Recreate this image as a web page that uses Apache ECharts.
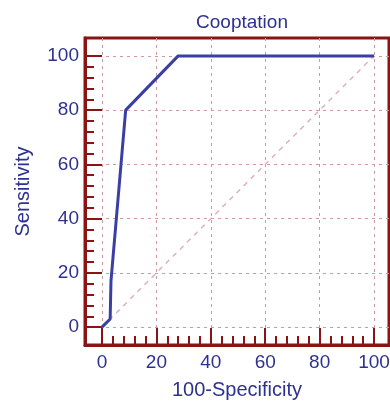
<!DOCTYPE html>
<html><head><meta charset="utf-8">
<script src="https://cdn.jsdelivr.net/npm/echarts@6/dist/echarts.min.js"></script>
<style>html,body{margin:0;padding:0;background:#fff}#c{width:390px;height:403px}</style>
</head><body><div id="c"></div>
<script>
const titleText = 'Cooptation';
const xName = '100-Specificity';
const yName = 'Sensitivity';
const rocX = [0, 3, 3.3, 8.7, 28, 100];
const rocY = [0, 3, 17, 80, 100, 100];
const diagX = [0, 100];
const diagY = [0, 100];
const majorTicks = [0, 20, 40, 60, 80, 100];
const minorStep = 4;
const minorTicks = [];
for (let v = 0; v <= 100; v += minorStep) minorTicks.push(v);

const textColor = '#2E3190';
const frameColor = '#8A1414';
const gridColor = '#CF9A9F';
const lineColor = '#3A3FA6';
const font = 'Liberation Sans, Arial';

const G = {left: 85, top: 38, right: 1, bottom: 58};
const gridW = 390 - G.left - G.right;
const gridH = 403 - G.top - G.bottom;

function axisPair(kind, min, max, nameText, nameGap) {
  const main = {
    type: 'value', min: min, max: max,
    name: nameText, nameLocation: 'middle', nameGap: nameGap,
    nameTextStyle: {color: textColor, fontSize: 20, fontFamily: font},
    axisLine: {show: true, onZero: false, lineStyle: {color: frameColor, width: 3}},
    axisTick: {show: true, inside: true, length: 17, customValues: majorTicks, lineStyle: {color: frameColor, width: 2}},
    axisLabel: {show: true, customValues: majorTicks, color: textColor, fontSize: 19, fontFamily: font, margin: kind === 'x' ? 8 : 6},
    splitLine: {show: true, lineStyle: {color: gridColor, type: [3, 4], width: 1}},
    splitNumber: 5,
    position: kind === 'x' ? 'bottom' : 'left'
  };
  // minor-tick axis: put on the opposite side, then shifted back onto the same edge
  const minor = {
    type: 'value', min: min, max: max,
    axisLine: {show: false, onZero: false},
    axisTick: {show: true, inside: false, length: 9, customValues: minorTicks, lineStyle: {color: frameColor, width: 2}},
    axisLabel: {show: false},
    splitLine: {show: false},
    position: kind === 'x' ? 'top' : 'right',
    offset: kind === 'x' ? -gridH : -gridW
  };
  return [main, minor];
}

const chart = echarts.init(document.getElementById('c'));
chart.setOption({
  animation: false,
  title: {text: titleText, left: 237, top: 8, textAlign: 'center',
    textStyle: {color: textColor, fontSize: 19, fontWeight: 'normal', fontFamily: font}},
  grid: Object.assign({show: true, borderColor: frameColor, borderWidth: 3, backgroundColor: 'transparent',
    containLabel: false, outerBoundsMode: 'none'}, G),
  xAxis: axisPair('x', -6.25, 105.5, xName, 35),
  yAxis: axisPair('y', -6.6, 106.6, yName, 52),
  series: [
    {type: 'line', xAxisIndex: 0, yAxisIndex: 0, data: diagX.map((x, i) => [x, diagY[i]]),
     showSymbol: false, lineStyle: {color: '#DDAEB6', width: 1.4, type: [5, 5]}},
    {type: 'line', xAxisIndex: 0, yAxisIndex: 0, data: rocX.map((x, i) => [x, rocY[i]]),
     showSymbol: false, lineStyle: {color: lineColor, width: 3}}
  ]
});
</script></body></html>
